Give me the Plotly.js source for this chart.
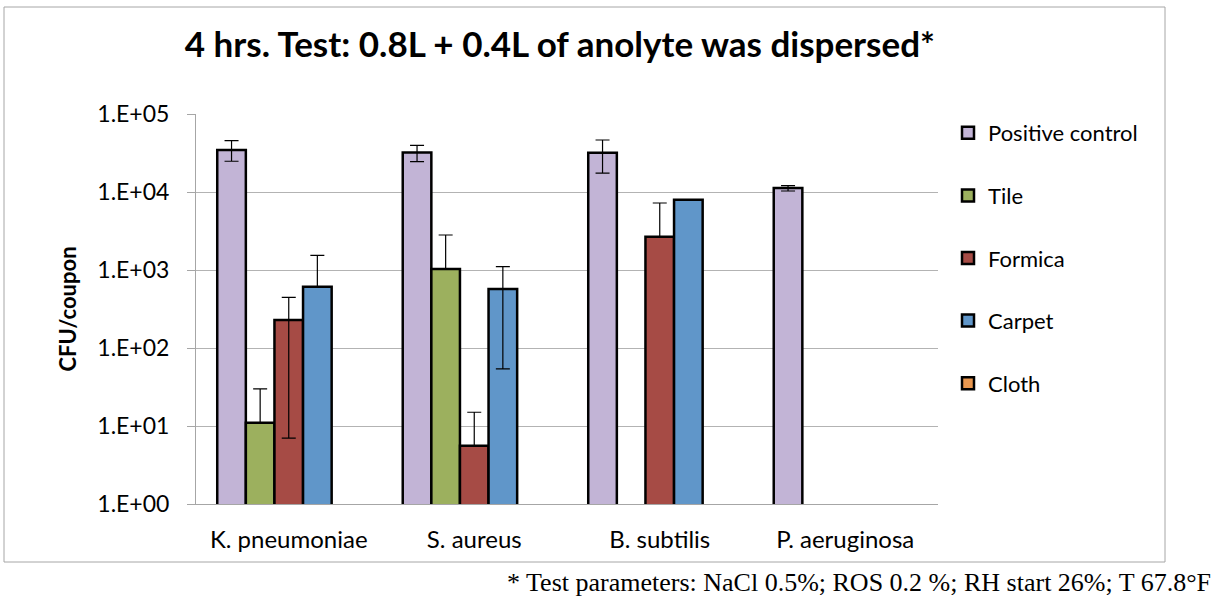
<!DOCTYPE html>
<html>
<head>
<meta charset="utf-8">
<script src="https://cdn.plot.ly/plotly-3.0.1.min.js"></script>
<style>
html,body{margin:0;padding:0;background:#fff;}
#chart{width:1217px;height:596px;}
</style>
</head>
<body>
<div id="chart"></div>
<script>
var categories = ["K. pneumoniae", "S. aureus", "B. subtilis", "P. aeruginosa"];
var seriesNames = ["Positive control", "Tile", "Formica", "Carpet", "Cloth"];

var positiveControl = [34500, 32200, 31900, 11250];
var tile = [11, 1030, null, null];
var formica = [228, 5.6, 2670, null];
var carpet = [611, 571, 7960, null];
var cloth = [null, null, null, null];

var positiveErrPlus = [11000, 7400, 14500, 800];
var positiveErrMinus = [9700, 7700, 14400, 950];
var tileErrPlus = [19, 1780, 0, 0];
var tileErrMinus = [0, 0, 0, 0];
var formicaErrPlus = [219, 9.4, 4560, 0];
var formicaErrMinus = [221, 0, 0, 0];
var carpetErrPlus = [932, 534, 0, 0];
var carpetErrMinus = [0, 517, 0, 0];
var clothErrPlus = [0, 0, 0, 0];
var clothErrMinus = [0, 0, 0, 0];

var yTickVals = [1, 10, 100, 1000, 10000, 100000];
var yTickText = ["1.E+00", "1.E+01", "1.E+02", "1.E+03", "1.E+04", "1.E+05"];

var colors = ["#C2B4D6", "#9CB05E", "#A64B45", "#6096C9", "#E9974F"];
var values = [positiveControl, tile, formica, carpet, cloth];
var errPlus = [positiveErrPlus, tileErrPlus, formicaErrPlus, carpetErrPlus, clothErrPlus];
var errMinus = [positiveErrMinus, tileErrMinus, formicaErrMinus, carpetErrMinus, clothErrMinus];
var showErr = [true, true, true, true, false];

var font = "Lato, 'Open Sans', sans-serif";

var traces = seriesNames.map(function(name, i) {
  return {
    type: "bar",
    name: name,
    x: categories,
    y: values[i],
    legendgroup: "g" + i,
    marker: {color: colors[i], line: {color: "#000000", width: 2.5}},
    error_y: {
      type: "data",
      symmetric: false,
      array: errPlus[i],
      arrayminus: errMinus[i],
      visible: showErr[i],
      color: "#000000",
      thickness: 1.2,
      width: 7
    },
    hoverinfo: "x+y+name"
  };
});

// plot area: x 196..938, y 114..504
function px(x) { return (x - 196) / 742; }
function py(y) { return (504 - y) / 390; }

var layout = {
  width: 1217,
  height: 596,
  margin: {l: 196, r: 279, t: 114, b: 92},
  paper_bgcolor: "#ffffff",
  plot_bgcolor: "#ffffff",
  barmode: "group",
  bargap: 0.229,
  bargroupgap: 0,
  title: {
    text: "<b>4 hrs. Test: 0.8L + 0.4L of anolyte was dispersed*</b>",
    font: {family: font, size: 35, color: "#000000"},
    x: 0.46,
    xanchor: "center",
    y: 0.925,
    yanchor: "middle"
  },
  xaxis: {
    type: "category",
    showgrid: false,
    showline: true,
    linecolor: "#A6A6A6",
    linewidth: 1,
    ticks: "",
    tickfont: {family: font, size: 24, color: "#000000"},
    ticklabelstandoff: 14
  },
  yaxis: {
    type: "log",
    range: [0, 5],
    tickvals: yTickVals,
    ticktext: yTickText,
    showgrid: true,
    gridcolor: "#B3B3B3",
    gridwidth: 1,
    showline: true,
    linecolor: "#A6A6A6",
    linewidth: 1,
    ticks: "outside",
    ticklen: 8,
    tickcolor: "#A6A6A6",
    tickfont: {family: font, size: 23, color: "#000000"},
    ticklabelstandoff: 13,
    zeroline: false,
    title: {
      text: "<b>CFU/coupon</b>",
      font: {family: font, size: 22, color: "#000000"},
      standoff: 14
    }
  },
  legend: {
    x: px(948),
    xanchor: "left",
    y: py(112),
    yanchor: "top",
    font: {family: font, size: 22, color: "#000000"},
    tracegroupgap: 31,
    itemwidth: 30,
    bgcolor: "rgba(0,0,0,0)"
  },
  shapes: [{
    type: "rect",
    xref: "paper", yref: "paper",
    x0: px(4), x1: px(1165), y0: py(562), y1: py(7),
    line: {color: "#A6A6A6", width: 1},
    fillcolor: "rgba(0,0,0,0)",
    layer: "below"
  }],
  annotations: [{
    text: "* Test parameters: NaCl 0.5%; ROS 0.2 %; RH start 26%; T 67.8°F",
    xref: "paper", yref: "paper",
    x: px(1213), xanchor: "right",
    y: py(582), yanchor: "middle",
    showarrow: false,
    font: {family: "'Liberation Serif', 'Times New Roman', serif", size: 26, color: "#000000"}
  }]
};

Plotly.newPlot("chart", traces, layout, {displayModeBar: false, staticPlot: true});
</script>
</body>
</html>
